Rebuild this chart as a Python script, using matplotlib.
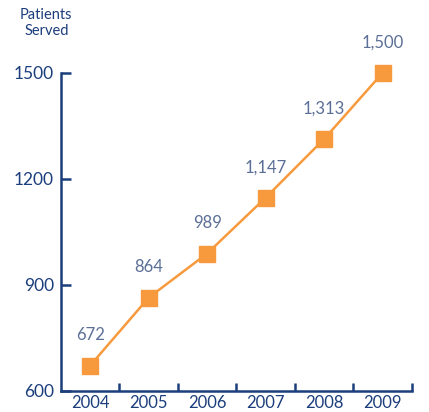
import matplotlib.pyplot as plt
import numpy as np

years = ['2004', '2005', '2006', '2007', '2008', '2009']
patients = [672, 864, 989, 1147, 1313, 1500]
labels = ['672', '864', '989', '1,147', '1,313', '1,500']
yticks = [600, 900, 1200, 1500]

navy = '#1c3e7c'
orange = '#f79a3e'
slate = '#5b6f96'

plt.rcParams['font.family'] = ['Lato', 'DejaVu Sans']

fig = plt.figure(figsize=(4.29, 4.12), dpi=100)
ax = fig.add_axes([0.142, 0.051, 0.818, 0.772])

x = np.arange(len(years))
ax.plot(x, patients, color=orange, lw=1.8, marker='s', markersize=11.5,
        markerfacecolor=orange, markeredgecolor=orange, zorder=3, clip_on=False)

for xi, yi, lab in zip(x, patients, labels):
    ax.annotate(lab, (xi, yi), xytext=(0, 16), textcoords='offset points',
                ha='center', va='bottom', color=slate, fontsize=12)

ax.set_xlim(-0.5, len(years) - 0.5)
ax.set_ylim(600, 1500)
ax.set_xticks(x)
ax.set_xticklabels(years)
ax.set_xticks(x + 0.5, minor=True)
ax.tick_params(axis='x', which='major', length=0, pad=3, labelsize=12, labelcolor=navy)
ax.tick_params(axis='x', which='minor', direction='in', length=6, width=1.8, color=navy)
ax.set_yticks(yticks)
ax.tick_params(axis='y', direction='in', length=7, width=1.8, color=navy,
               pad=5, labelsize=12.5, labelcolor=navy)

for side in ['top', 'right']:
    ax.spines[side].set_visible(False)
for side in ['left', 'bottom']:
    ax.spines[side].set_color(navy)
    ax.spines[side].set_linewidth(1.8)

fig.text(0.108, 0.98, 'Patients\nServed', ha='center', va='top',
         color=navy, fontsize=10.5, linespacing=1.15)

fig.savefig('out.png', dpi=100)
